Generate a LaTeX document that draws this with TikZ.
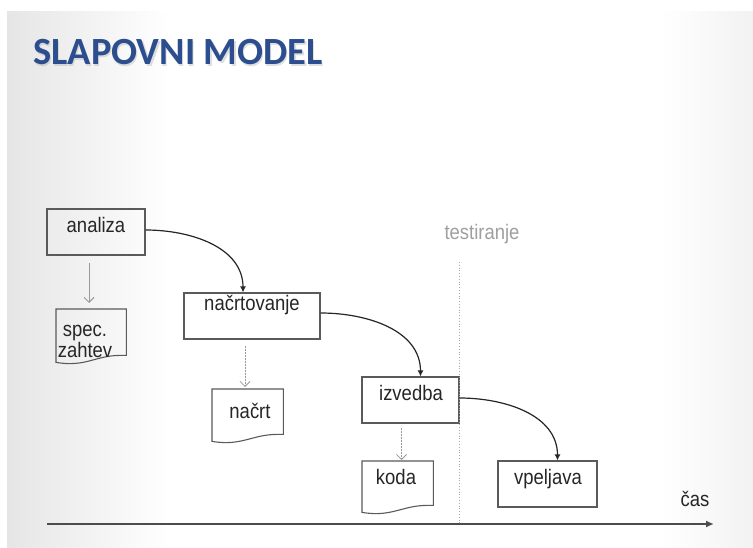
\documentclass[tikz,border=0pt]{standalone}
\usepackage{fontspec}
\setmainfont{Liberation Sans}
\newfontfamily\lblfont[FakeStretch=0.88]{Liberation Sans}
\newfontfamily\titlefont{Carlito}
\usetikzlibrary{arrows.meta,calc}
\definecolor{titleblue}{HTML}{2C4E8E}
\definecolor{inkgray}{HTML}{262626}
\definecolor{boxgray}{HTML}{5A5A5A}
\begin{document}
\begin{tikzpicture}[x=1pt,y=-1pt,
  box/.style={draw=boxgray,line width=1.1pt,rectangle,inner sep=0pt},
  docbox/.style={rectangle,inner sep=0pt,anchor=north west},
  lbl/.style={anchor=base,inner sep=0pt,text=inkgray,font=\lblfont\fontsize{21}{17}\selectfont},
  flow/.style={draw=inkgray,line width=1.2pt,-{Latex[length=6pt,width=6pt]}},
  prod/.style={draw=gray!80,line width=0.8pt,dashed,dash pattern=on 2pt off 1pt,-{Straight Barb[length=5pt,width=10pt]}},
  prodsolid/.style={draw=gray!80,line width=0.9pt,-{Straight Barb[length=5pt,width=10pt]}},
  docline/.style={draw=boxgray,line width=1.1pt,line join=miter}]
\useasboundingbox (0,0) rectangle (753,548);
\fill[white] (0,0) rectangle (753,548);
% slide background
\fill[white] (7,12) rectangle (753,548);
\shade[left color=black!10,right color=white] (7,12) rectangle (170,548);
\shade[left color=white,right color=black!5] (660,12) rectangle (753,548);
% title
\node[anchor=base west,inner sep=0pt,text=black!35,opacity=0.35,font=\titlefont\bfseries\fontsize{38.5}{40}\selectfont] at (34.2,66.5) {SLAPOVNI MODEL};
\node (title)[anchor=base west,inner sep=0pt,text=titleblue,font=\titlefont\bfseries\fontsize{38.5}{40}\selectfont] at (33,65) {SLAPOVNI MODEL};
% process boxes
\node (analiza)[box,minimum width=98pt,minimum height=46pt] at (96,232) {};
\node (plan)[box,minimum width=136pt,minimum height=46pt] at (252,316) {};
\node (izvedba)[box,minimum width=97pt,minimum height=46pt] at (410.5,400) {};
\node (vpeljava)[box,minimum width=99pt,minimum height=46pt] at (547.5,484) {};
\node (tanaliza)[lbl] at (96,233) {analiza};
\node (tplan)[lbl] at (252,311) {načrtovanje};
\node (tizvedba)[lbl] at (411,400) {izvedba};
\node (tvpeljava)[lbl] at (548,484) {vpeljava};
% document shapes
\node (spec)[docbox,minimum width=70pt,minimum height=46pt] at (56,309) {};
\node (nacrt)[docbox,minimum width=71pt,minimum height=45pt] at (212,389) {};
\node (koda)[docbox,minimum width=71pt,minimum height=44pt] at (362,461) {};
\foreach \d in {spec,nacrt,koda}{
  \draw[docline] (\d.south west) -- (\d.north west) -- (\d.north east) -- (\d.south east)
    -- ($(\d.south east)+(-6,0)$)
    .. controls ($(\d.south)+(4,0)$) and ($(\d.south west)+(30,12)$) .. ($(\d.south west)+(0,7)$) -- cycle;
}
\node (tspec)[lbl,align=center] at (85,357) {spec.\\zahtev};
\node (tnacrt)[lbl] at (250,418) {načrt};
\node (tkoda)[lbl] at (396,484) {koda};
% flow connectors
\draw[flow] ([yshift=2pt]analiza.east) to[out=0,in=90] ([xshift=-9pt]plan.north);
\draw[flow] ([yshift=3pt]plan.east) to[out=0,in=90] ([xshift=10pt]izvedba.north);
\draw[flow] ([yshift=2pt]izvedba.east) to[out=0,in=90] ([xshift=10pt]vpeljava.north);
% product arrows
\draw[prodsolid,shorten <=7pt,shorten >=6pt] ([xshift=-7pt]analiza.south) -- ([xshift=-7pt]analiza.south |- spec.north);
\draw[prod,shorten <=6pt,shorten >=2pt] ([xshift=-7pt]plan.south) -- ([xshift=-7pt]plan.south |- nacrt.north);
\draw[prod,shorten <=4pt,shorten >=1pt] ([xshift=-9pt]izvedba.south) -- ([xshift=-9pt]izvedba.south |- koda.north);
% testing line
\coordinate (ttop) at (459,262);
\coordinate (tbot) at (459,523);
\draw[gray!70,line width=0.8pt,dotted] (ttop) -- (tbot);
\node (testiranje)[lbl,text=gray!75] at (482,240) {testiranje};
% time axis
\coordinate (axs) at (47,524);
\coordinate (axe) at (714,524);
\draw[draw=black!70,line width=2pt,-{Latex[length=8pt,width=7pt]}] (axs) -- (axe);
\node (cas)[lbl] at (695,506) {čas};
\end{tikzpicture}
\end{document}
